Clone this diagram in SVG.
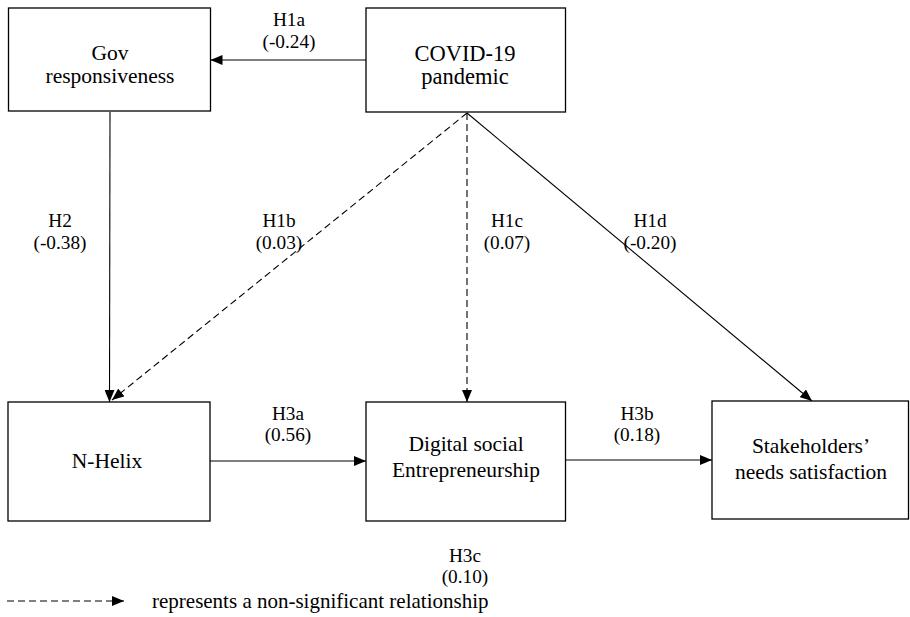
<svg xmlns="http://www.w3.org/2000/svg" width="910" height="617" viewBox="0 0 910 617">
<style>
.box{fill:#fff;stroke:#000;stroke-width:1.3}
.t{font-family:"Liberation Serif",Tinos,"Times New Roman",Times,"DejaVu Serif",serif;fill:#000;text-anchor:middle}
.bt{font-size:21.5px}
.lb{font-size:19.3px}
.c{fill:none;stroke:#000;stroke-width:1.1}
.d{stroke-dasharray:7 4}
</style>
<defs>
<marker id="ah" viewBox="0 0 12 10" refX="12" refY="5" markerWidth="12" markerHeight="10" markerUnits="userSpaceOnUse" orient="auto">
<path d="M0,0 L12,5 L0,10 z" fill="#000" stroke="none"/>
</marker>
</defs>
<rect width="910" height="617" fill="#fff"/>
<g id="connectors">
<path class="c" d="M366,60 L210.5,60" marker-end="url(#ah)"/>
<path class="c" d="M110,112 L109.5,402" marker-end="url(#ah)"/>
<path class="c d" d="M467,113 L112,400" marker-end="url(#ah)"/>
<path class="c d" d="M467,113 L467,402" marker-end="url(#ah)"/>
<path class="c" d="M467,113 L812,401" marker-end="url(#ah)"/>
<path class="c" d="M210,461 L366,461" marker-end="url(#ah)"/>
<path class="c" d="M565.5,460 L712,460" marker-end="url(#ah)"/>
</g>
<g id="labels">
<text class="t lb" x="289" y="26">H1a</text>
<text class="t lb" x="289" y="48">(-0.24)</text>
<text class="t lb" x="60" y="227">H2</text>
<text class="t lb" x="60" y="249">(-0.38)</text>
<text class="t lb" x="279" y="227">H1b</text>
<text class="t lb" x="279" y="249">(0.03)</text>
<text class="t lb" x="507" y="227">H1c</text>
<text class="t lb" x="507" y="249">(0.07)</text>
<text class="t lb" x="650" y="227">H1d</text>
<text class="t lb" x="650" y="249">(-0.20)</text>
<text class="t lb" x="288" y="420">H3a</text>
<text class="t lb" x="288" y="441">(0.56)</text>
<text class="t lb" x="637" y="420">H3b</text>
<text class="t lb" x="637" y="441">(0.18)</text>
<text class="t lb" x="465" y="562">H3c</text>
<text class="t lb" x="465" y="583">(0.10)</text>
</g>
<g id="gov">
<rect class="box" x="8.5" y="8" width="202" height="103"/>
<text class="t bt" x="110" y="60">Gov</text>
<text class="t bt" x="110" y="83">responsiveness</text>
</g>
<g id="covid">
<rect class="box" x="366" y="8" width="199.5" height="104"/>
<text class="t" style="font-size:22.5px" x="465" y="61">COVID-19</text>
<text class="t" style="font-size:22.5px" x="465" y="84">pandemic</text>
</g>
<g id="nhelix">
<rect class="box" x="8" y="402" width="202" height="119"/>
<text class="t bt" x="107" y="468">N-Helix</text>
</g>
<g id="dse">
<rect class="box" x="366" y="402" width="199.5" height="119"/>
<text class="t bt" x="466" y="451">Digital social</text>
<text class="t bt" x="466" y="477">Entrepreneurship</text>
</g>
<g id="stake">
<rect class="box" x="712" y="401" width="196.5" height="118"/>
<text class="t bt" x="811" y="453">Stakeholders’</text>
<text class="t bt" x="811" y="479">needs satisfaction</text>
</g>
<g id="legend">
<path class="c d" d="M7,601 L124,601" marker-end="url(#ah)"/>
<text class="t" x="152" y="608" style="font-size:21px;text-anchor:start">represents a non-significant relationship</text>
</g>
</svg>
